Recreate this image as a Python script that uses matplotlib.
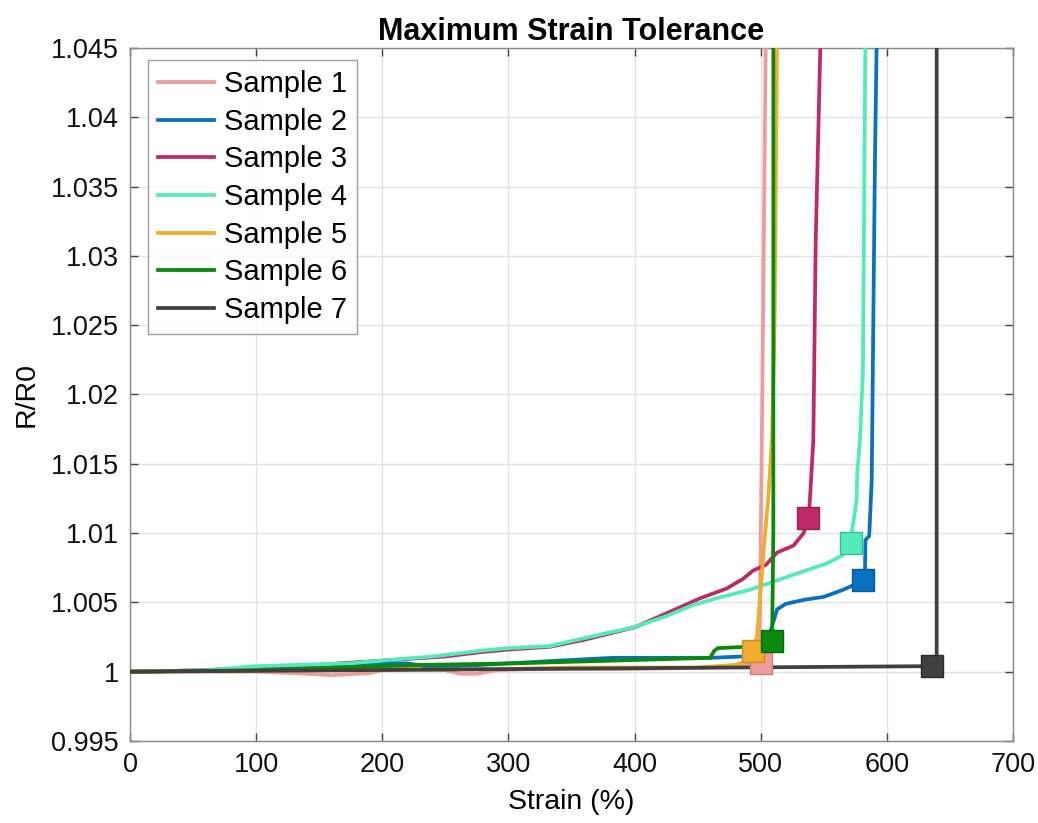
import matplotlib
matplotlib.use("Agg")
import matplotlib.pyplot as plt
from matplotlib.ticker import FuncFormatter

plt.rcParams['font.family'] = ['Liberation Sans', 'DejaVu Sans']

labels = ["Sample 1", "Sample 2", "Sample 3", "Sample 4", "Sample 5", "Sample 6", "Sample 7"]
colors = ["#EC9C9C", "#0A70C0", "#BE2A68", "#52EBBA", "#F4AC2C", "#0A8A0A", "#404040"]
edge_colors = ["#C98080", "#085A9A", "#962052", "#3BBE95", "#C98A20", "#066A06", "#2A2A2A"]

s1_x = [0, 100, 130, 160, 190, 205, 230, 250, 262, 275, 290, 320, 400, 460, 490, 499, 501.5, 504]
s1_y = [1.0, 1.0, 0.9999, 0.99975, 0.9999, 1.0002, 1.0003, 1.0001, 0.99985, 0.99985, 1.0001, 1.0002, 1.0002, 1.0003, 1.0005, 1.001, 1.022, 1.046]

s2_x = [0, 60, 100, 150, 200, 220, 235, 245, 260, 300, 340, 383, 420, 460, 486, 499, 505, 508, 513, 520, 535, 550, 565, 575, 581, 582.7, 583, 586, 588, 590.5, 592]
s2_y = [1.0, 1.0001, 1.0003, 1.0004, 1.0006, 1.0006, 1.0004, 1.0003, 1.0004, 1.0006, 1.0008, 1.0010, 1.0010, 1.0010, 1.0011, 1.0012, 1.002, 1.003, 1.0045, 1.0049, 1.0052, 1.0054, 1.0059, 1.0063, 1.0066, 1.0073, 1.0095, 1.0098, 1.0138, 1.0364, 1.046]

s3_x = [0, 60, 100, 150, 200, 250, 277, 300, 333, 360, 400, 425, 452, 473, 486, 494, 504, 513, 526, 534, 538, 539, 541.7, 543.6, 547.5]
s3_y = [1.0, 1.0001, 1.0003, 1.0005, 1.0008, 1.0011, 1.0014, 1.0016, 1.0018, 1.0023, 1.0032, 1.0042, 1.0053, 1.006, 1.0067, 1.0073, 1.0077, 1.0086, 1.0091, 1.0100, 1.0111, 1.0124, 1.0167, 1.0311, 1.046]

s4_x = [0, 60, 100, 174, 200, 240, 277, 300, 333, 359, 399, 425, 446, 465, 491, 507, 526, 552, 565, 571.6, 572.5, 576, 576.5, 578.7, 581, 583]
s4_y = [1.0, 1.0001, 1.0004, 1.0006, 1.0008, 1.0011, 1.0015, 1.0017, 1.00185, 1.0024, 1.0032, 1.004, 1.0048, 1.0053, 1.0059, 1.0064, 1.007, 1.0078, 1.0084, 1.0094, 1.0102, 1.0124, 1.0143, 1.0167, 1.0216, 1.046]

s5_x = [0, 100, 200, 300, 350, 400, 450, 480, 490, 493, 497, 500, 503, 506, 509, 511, 513]
s5_y = [1.0, 1.0001, 1.0001, 1.0002, 1.0003, 1.0003, 1.0003, 1.0005, 1.0008, 1.0015, 1.0025, 1.006, 1.0095, 1.0125, 1.017, 1.025, 1.046]

s6_x = [0, 100, 198, 238, 304, 383, 460, 463, 466, 489, 501, 509, 510, 510]
s6_y = [1.0, 1.0001, 1.0004, 1.0005, 1.0006, 1.0008, 1.001, 1.0015, 1.0017, 1.0018, 1.0019, 1.0022, 1.01, 1.046]

s7_x = [0, 636, 639.5, 639.5]
s7_y = [1.0, 1.0004, 1.0004, 1.046]

series_x = [s1_x, s2_x, s3_x, s4_x, s5_x, s6_x, s7_x]
series_y = [s1_y, s2_y, s3_y, s4_y, s5_y, s6_y, s7_y]

marker_x = [500, 581, 537.5, 571.5, 494, 509, 636]
marker_y = [1.0006, 1.0066, 1.0111, 1.0093, 1.0015, 1.0022, 1.0004]

x_ticks = [0, 100, 200, 300, 400, 500, 600, 700]
y_ticks = [0.995, 1.0, 1.005, 1.01, 1.015, 1.02, 1.025, 1.03, 1.035, 1.04, 1.045]

fig = plt.figure(figsize=(10.38, 8.23), dpi=100)
ax = fig.add_axes([130/1038, 1 - 741/823, (1013-130)/1038, (741-48)/823])

handles = []
for i in range(7):
    h, = ax.plot(series_x[i], series_y[i], color=colors[i], lw=2.7, label=labels[i],
                 solid_joinstyle='round', zorder=3 + i * 0.1)
    handles.append(h)
    ax.plot([marker_x[i]], [marker_y[i]], linestyle='none', marker='s', markersize=16,
            markerfacecolor=colors[i], markeredgecolor=edge_colors[i], markeredgewidth=1.0,
            zorder=4 + i * 0.1)

ax.set_xlim(0, 700)
ax.set_ylim(0.995, 1.045)
ax.set_xticks(x_ticks)
ax.set_yticks(y_ticks)
ax.yaxis.set_major_formatter(FuncFormatter(lambda v, p: "%g" % round(v, 4)))
ax.grid(True, color='#E3E3E3', lw=1.0, zorder=0)
ax.set_axisbelow(True)
ax.tick_params(direction='in', length=6, width=1, colors='#444444', labelsize=19.5,
               labelcolor='#111111', top=True, right=True, pad=8)
for sp in ax.spines.values():
    sp.set_color('#888888')
    sp.set_linewidth(1.0)

ax.set_title("Maximum Strain Tolerance", fontsize=22, fontweight='bold', pad=6)
ax.set_xlabel("Strain (%)", fontsize=20.5, labelpad=8)
ax.set_ylabel("R/R0", fontsize=20.5, labelpad=8)

leg = ax.legend(handles=handles, loc='upper left', bbox_to_anchor=(18/883, 1 - 12/693),
                borderaxespad=0, fontsize=21, frameon=True, fancybox=False,
                handlelength=1.9, handletextpad=0.35, labelspacing=0.33,
                borderpad=0.35)
leg.get_frame().set_edgecolor('#888888')
leg.get_frame().set_linewidth(1.0)

fig.savefig("out.png", dpi=100)
